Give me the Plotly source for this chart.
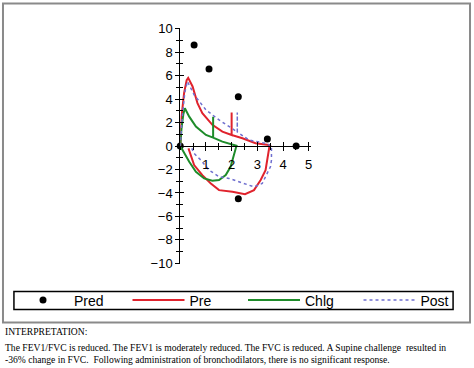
import plotly.graph_objects as go

# ---------------- data ----------------
pred_vol = [0, 0.54, 1.12, 2.26, 3.39, 4.51, 2.26]
pred_flow = [0, 8.6, 6.55, 4.2, 0.6, 0.0, -4.5]

pre_vol = [0, 0.05, 0.15, 0.25, 0.31, 0.48, 0.67, 0.86, 1.25, 1.64, 2.0, 2.0, 2.0,
           2.42, 2.93, 3.45, 3.5, 3.47, 3.41, 3.32, 3.13, 2.87, 2.52, 2.03, 1.51,
           1.19, 0.86, 0.54, 0.32]
pre_flow = [0, 2.5, 4.5, 5.6, 5.8, 5.07, 3.65, 2.8, 1.8, 1.22, 0.94, 2.85, 0.94,
            0.66, 0.23, 0.08, 0.0, -0.05, -0.91, -2.05, -2.9, -3.76, -4.1, -3.9, -3.76,
            -3.19, -2.48, -1.62, -0.2]

chlg_vol = [0, 0.05, 0.12, 0.18, 0.35, 0.61, 1.0, 1.28, 1.28, 1.28, 1.64, 2.16, 2.22,
            2.18, 2.09, 1.96, 1.77, 1.51, 1.25, 0.93, 0.61, 0.35, 0.09, 0]
chlg_flow = [0, 1.5, 2.7, 3.22, 2.5, 1.65, 0.94, 0.71, 2.5, 0.71, 0.37, 0.09, 0.0,
             -0.05, -0.77, -1.77, -2.48, -2.9, -2.96, -2.76, -2.2, -1.34, -0.34, 0]

post_vol = [0, 0.08, 0.18, 0.28, 0.54, 1.0, 1.51, 2.0, 2.22, 2.22, 2.22, 2.67, 3.32,
            3.55, 3.55, 3.51, 3.19, 2.87, 2.42, 1.9, 1.51, 1.12, 0.8, 0.54, 0.45]
post_flow = [0, 2.5, 4.6, 5.5, 4.36, 3.08, 2.22, 1.51, 1.2, 2.85, 1.2, 0.51, 0.23,
             0.0, -1.2, -1.77, -3.19, -3.48, -3.13, -2.76, -2.62, -2.05, -1.2, -0.63, -0.2]

x_ticks = [1, 2, 3, 4, 5]
y_ticks = [-10, -8, -6, -4, -2, 0, 2, 4, 6, 8, 10]

text_lines = [
    "INTERPRETATION:",
    "The FEV1/FVC is reduced. The FEV1 is moderately reduced. The FVC is reduced. A Supine challenge  resulted in",
    "-36% change in FVC.  Following administration of bronchodilators, there is no significant response.",
]

# ---------------- layout geometry ----------------
W, H = 474, 368
x_range = [0, 5.08]
y_range = [-10.05, 10.05]
AX_L = 181          # pixel of x=0
AX_R = 312.1        # pixel of right end of x axis
T = 28.4
PLOT_H = 235.2
B = H - T - PLOT_H


def px(x):
    return x / W


def py(y):
    return (T + PLOT_H - y) / PLOT_H


RED = "#e0232d"
GREEN = "#1e8c2a"
BLUE = "#6f6fcf"
FONT = "Liberation Sans, Arial, sans-serif"

fig = go.Figure()
fig.add_trace(go.Scatter(x=pred_vol, y=pred_flow, mode="markers", name="Pred",
                         marker=dict(color="black", size=7), cliponaxis=False))
fig.add_trace(go.Scatter(x=pre_vol, y=pre_flow, mode="lines", name="Pre",
                         line=dict(color=RED, width=2), cliponaxis=False))
fig.add_trace(go.Scatter(x=chlg_vol, y=chlg_flow, mode="lines", name="Chlg",
                         line=dict(color=GREEN, width=2), cliponaxis=False))
fig.add_trace(go.Scatter(x=post_vol, y=post_flow, mode="lines", name="Post",
                         line=dict(color=BLUE, width=1.5, dash="dot"), cliponaxis=False))
fig.add_trace(go.Scatter(x=[None], y=[None], xaxis="x2", yaxis="y2", showlegend=False))

axis_common = dict(showgrid=False, zeroline=False, linecolor="black", linewidth=1,
                   tickcolor="black", tickwidth=1)
x_dom = [px(AX_L), px(AX_R)]

fig.update_layout(
    width=W, height=H,
    margin=dict(l=0, r=0, t=T, b=B, pad=0),
    paper_bgcolor="white", plot_bgcolor="white",
    font=dict(family=FONT, color="black", size=12),
    xaxis=dict(range=x_range, domain=x_dom, anchor="free", position=0.5, showline=True,
               tickvals=x_ticks, ticks="outside", ticklen=4, ticklabelstandoff=2,
               minor=dict(dtick=0.5, tick0=0, ticks="outside", ticklen=3, tickcolor="black"),
               tickfont=dict(size=13), **axis_common),
    yaxis=dict(range=y_range, anchor="x", showline=True, tickvals=y_ticks,
               ticks="outside", ticklen=4,
               minor=dict(dtick=1, tick0=0, ticks="outside", ticklen=3, tickcolor="black"),
               tickfont=dict(size=13), **axis_common),
    xaxis2=dict(range=x_range, domain=x_dom, overlaying="x", anchor="free", position=0.5,
                showline=False, showticklabels=False, tickvals=x_ticks, ticks="inside", ticklen=4,
                minor=dict(dtick=0.5, tick0=0, ticks="inside", ticklen=3, tickcolor="black"),
                showgrid=False, zeroline=False, tickcolor="black"),
    yaxis2=dict(range=y_range, overlaying="y", anchor="x", showline=False,
                showticklabels=False, tickvals=y_ticks, ticks="inside", ticklen=4,
                minor=dict(dtick=1, tick0=0, ticks="inside", ticklen=3, tickcolor="black"),
                showgrid=False, zeroline=False, tickcolor="black"),
    showlegend=True,
    legend=dict(orientation="h", x=px(32), xanchor="left", y=py(300), yanchor="middle",
                bgcolor="rgba(0,0,0,0)", borderwidth=0, itemwidth=52,
                entrywidth=48.5, entrywidthmode="pixels",
                font=dict(family=FONT, size=14, color="black")),
    shapes=[
        dict(type="rect", xref="paper", yref="paper", x0=px(3), x1=px(472), y0=py(4), y1=py(322),
             line=dict(color="#8a8a8a", width=2), layer="below"),
        dict(type="rect", xref="paper", yref="paper", x0=px(14), x1=px(455), y0=py(291), y1=py(309),
             line=dict(color="black", width=1.5), layer="below"),
    ],
)

ys = [331, 347, 359]
for line, yy in zip(text_lines, ys):
    fig.add_annotation(text=line, xref="paper", yref="paper", x=px(3), y=py(yy),
                       xanchor="left", yanchor="middle", showarrow=False,
                       font=dict(family="Liberation Serif, Times New Roman, serif", size=9.6, color="black"))

fig.write_html("out.html", config={"displayModeBar": False},
               post_script="document.body.style.margin='0px';")
